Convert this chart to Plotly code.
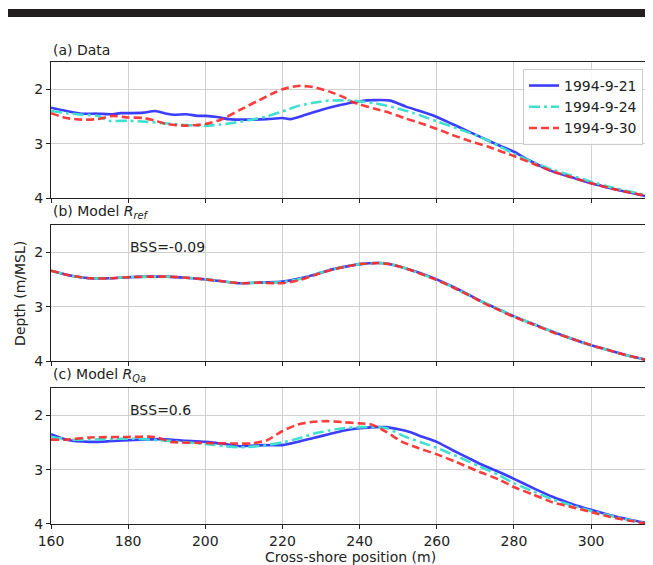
import plotly.graph_objects as go

# ---------------- data ----------------
series_names = ["1994-9-21", "1994-9-24", "1994-9-30"]

# (a) Data
a_0921_x = [160, 164, 168, 172, 176, 178, 180, 184, 187, 190, 192, 195, 198, 200, 203, 206, 211, 216, 220, 222, 226, 230, 235, 240, 244, 248, 252, 256, 260, 264, 268, 272, 276, 280, 284, 290, 295, 300, 305, 310, 315]
a_0921_y = [2.34, 2.40, 2.45, 2.45, 2.46, 2.44, 2.44, 2.43, 2.40, 2.45, 2.47, 2.46, 2.49, 2.49, 2.51, 2.55, 2.56, 2.55, 2.53, 2.55, 2.47, 2.38, 2.29, 2.22, 2.20, 2.21, 2.32, 2.41, 2.51, 2.64, 2.77, 2.90, 3.03, 3.15, 3.31, 3.51, 3.62, 3.73, 3.82, 3.90, 3.98]
a_0924_x = [160, 164, 168, 172, 175, 180, 185, 190, 195, 200, 204, 208, 212, 216, 220, 224, 228, 232, 238, 244, 248, 254, 260, 266, 271, 276, 280, 285, 290, 295, 300, 305, 310, 315]
a_0924_y = [2.40, 2.44, 2.47, 2.49, 2.58, 2.58, 2.60, 2.63, 2.66, 2.67, 2.65, 2.61, 2.56, 2.50, 2.41, 2.31, 2.25, 2.21, 2.21, 2.26, 2.32, 2.44, 2.59, 2.74, 2.87, 3.04, 3.19, 3.34, 3.48, 3.59, 3.70, 3.80, 3.88, 3.96]
a_0930_x = [160, 164, 168, 172, 176, 180, 184, 187, 190, 195, 200, 204, 209, 214, 218, 220, 224, 228, 232, 236, 238, 240, 244, 248, 252, 256, 260, 264, 268, 273, 280, 285, 290, 295, 300, 305, 310, 315]
a_0930_y = [2.44, 2.53, 2.56, 2.55, 2.49, 2.52, 2.53, 2.58, 2.64, 2.67, 2.64, 2.56, 2.38, 2.20, 2.06, 2.00, 1.94, 1.96, 2.04, 2.15, 2.23, 2.28, 2.36, 2.44, 2.54, 2.63, 2.73, 2.84, 2.94, 3.05, 3.23, 3.37, 3.51, 3.62, 3.73, 3.82, 3.90, 3.97]

# (b) Model R_ref
b_x = [160, 165, 170, 175, 180, 185, 190, 195, 200, 205, 209, 214, 218, 220, 224, 228, 232, 236, 240, 245, 248, 252, 256, 260, 264, 268, 272, 276, 280, 285, 290, 295, 300, 305, 310, 315]
b_0921_y = [2.34, 2.43, 2.48, 2.48, 2.46, 2.45, 2.45, 2.47, 2.50, 2.54, 2.57, 2.56, 2.55, 2.54, 2.49, 2.42, 2.33, 2.27, 2.22, 2.20, 2.22, 2.30, 2.39, 2.50, 2.63, 2.77, 2.92, 3.05, 3.18, 3.32, 3.46, 3.59, 3.71, 3.81, 3.91, 3.99]
b_0924_y = [2.34, 2.43, 2.48, 2.48, 2.46, 2.45, 2.45, 2.47, 2.50, 2.54, 2.57, 2.56, 2.56, 2.55, 2.50, 2.42, 2.33, 2.27, 2.22, 2.20, 2.22, 2.30, 2.40, 2.51, 2.64, 2.78, 2.92, 3.05, 3.18, 3.32, 3.46, 3.59, 3.71, 3.81, 3.91, 3.99]
b_0930_y = [2.34, 2.43, 2.48, 2.48, 2.46, 2.45, 2.45, 2.47, 2.50, 2.54, 2.57, 2.56, 2.57, 2.57, 2.52, 2.43, 2.34, 2.27, 2.22, 2.20, 2.22, 2.30, 2.40, 2.51, 2.64, 2.78, 2.93, 3.06, 3.19, 3.33, 3.47, 3.59, 3.71, 3.81, 3.91, 3.99]

# (c) Model R_Qa
c_0921_x = [160, 164, 170, 175, 180, 188, 195, 200, 205, 209, 215, 220, 224, 228, 232, 236, 240, 244, 247, 250, 253, 256, 260, 264, 268, 272, 276, 280, 285, 290, 295, 300, 305, 310, 315]
c_0921_y = [2.35, 2.45, 2.49, 2.48, 2.46, 2.44, 2.47, 2.49, 2.53, 2.57, 2.55, 2.55, 2.49, 2.42, 2.35, 2.28, 2.24, 2.22, 2.22, 2.26, 2.31, 2.39, 2.49, 2.64, 2.78, 2.92, 3.04, 3.17, 3.34, 3.50, 3.63, 3.74, 3.84, 3.92, 3.99]
c_0924_x = [160, 165, 170, 180, 190, 200, 205, 209, 215, 220, 224, 228, 232, 236, 240, 244, 247, 252, 256, 260, 266, 271, 276, 280, 285, 290, 295, 300, 305, 310, 315]
c_0924_y = [2.40, 2.45, 2.45, 2.43, 2.47, 2.53, 2.57, 2.59, 2.56, 2.50, 2.43, 2.34, 2.28, 2.24, 2.22, 2.22, 2.24, 2.40, 2.50, 2.60, 2.78, 2.94, 3.10, 3.25, 3.40, 3.55, 3.66, 3.76, 3.85, 3.93, 3.99]
c_0930_x = [160, 164, 170, 180, 187, 191, 200, 207, 212, 216, 220, 224, 228, 232, 236, 240, 243, 247, 251, 255, 260, 265, 271, 276, 280, 285, 290, 295, 300, 305, 310, 315]
c_0930_y = [2.45, 2.45, 2.41, 2.40, 2.40, 2.49, 2.51, 2.52, 2.52, 2.46, 2.29, 2.17, 2.12, 2.11, 2.13, 2.15, 2.17, 2.31, 2.49, 2.60, 2.72, 2.86, 3.04, 3.18, 3.32, 3.46, 3.60, 3.69, 3.78, 3.87, 3.94, 4.00]

panel_titles = ["(a) Data", "(b) Model <i>R</i><sub><i>ref</i></sub>", "(c) Model <i>R</i><sub><i>Qa</i></sub>"]
bss_labels = [None, "BSS=-0.09", "BSS=0.6"]
x_ticks = [160, 180, 200, 220, 240, 260, 280, 300]
y_ticks = [2, 3, 4]

# ---------------- styling ----------------
FONT = "DejaVu Sans"
colors = ["rgba(40,40,255,0.9)", "rgba(64,224,208,1)", "rgba(255,40,40,0.9)"]
dashes = ["solid", "11px,4px,3px,4px", "8px,4px"]

panels = [
    [(a_0921_x, a_0921_y), (a_0924_x, a_0924_y), (a_0930_x, a_0930_y)],
    [(b_x, b_0921_y), (b_x, b_0924_y), (b_x, b_0930_y)],
    [(c_0921_x, c_0921_y), (c_0924_x, c_0924_y), (c_0930_x, c_0930_y)],
]

domains = [[0.7056, 1.0], [0.3528, 0.6472], [0.0, 0.2944]]

fig = go.Figure()
for p, series in enumerate(panels):
    for s, (xs, ys) in enumerate(series):
        fig.add_trace(go.Scatter(
            x=xs, y=ys, mode="lines",
            name=series_names[s],
            showlegend=(p == 0),
            line=dict(color=colors[s], width=2.6, dash=dashes[s], shape="spline", smoothing=0.6),
            xaxis="x" if p == 0 else f"x{p+1}",
            yaxis="y" if p == 0 else f"y{p+1}",
        ))

# page has an 8px body margin, so the figure is 8px smaller than the window
layout = dict(
    width=645, height=557,
    margin=dict(l=43, r=4, t=54, b=41),
    paper_bgcolor="white", plot_bgcolor="white",
    font=dict(family=FONT, size=14, color="#222222"),
    legend=dict(x=0.99, xanchor="right", y=0.985, yanchor="top",
                bgcolor="rgba(255,255,255,0.85)", bordercolor="#cccccc", borderwidth=1,
                font=dict(family=FONT, size=14, color="#222222"), tracegroupgap=0),
    showlegend=True,
)

annotations = []
for p in range(3):
    xa = "xaxis" if p == 0 else f"xaxis{p+1}"
    ya = "yaxis" if p == 0 else f"yaxis{p+1}"
    yref = "y" if p == 0 else f"y{p+1}"
    layout[xa] = dict(
        domain=[0, 1], range=[160, 315], anchor=yref,
        tickvals=x_ticks, showticklabels=(p == 2),
        ticks="outside", ticklen=4, tickcolor="#222222",
        showgrid=True, gridcolor="#d0d0d0", gridwidth=1,
        showline=True, linecolor="#222222", linewidth=1.2, mirror=True,
        zeroline=False, tickfont=dict(size=14),
    )
    layout[ya] = dict(
        domain=domains[p], range=[4, 1.5], anchor="x" if p == 0 else f"x{p+1}",
        tickvals=y_ticks, ticks="outside", ticklen=4, tickcolor="#222222",
        showgrid=True, gridcolor="#d0d0d0", gridwidth=1,
        showline=True, linecolor="#222222", linewidth=1.2, mirror=True,
        zeroline=False, tickfont=dict(size=14),
    )
    annotations.append(dict(
        text=panel_titles[p], xref="paper", yref="paper",
        x=0, y=domains[p][1], xanchor="left", yanchor="bottom", yshift=2,
        showarrow=False, font=dict(size=14, family=FONT, color="#222222"),
    ))
    if bss_labels[p]:
        annotations.append(dict(
            text=bss_labels[p], xref="x" if p == 0 else f"x{p+1}", yref=yref,
            x=180, y=1.91, xanchor="left", yanchor="middle",
            showarrow=False, font=dict(size=14, family=FONT, color="#222222"),
        ))

annotations.append(dict(
    text="Cross-shore position (m)", xref="paper", yref="paper",
    x=0.5, y=0, xanchor="center", yanchor="top", yshift=-23,
    showarrow=False, font=dict(size=14, family=FONT, color="#222222"),
))
annotations.append(dict(
    text="Depth (m/MSL)", xref="paper", yref="paper",
    x=-0.052, y=0.5, xanchor="center", yanchor="middle", textangle=-90,
    showarrow=False, font=dict(size=14, family=FONT, color="#222222"),
))
layout["annotations"] = annotations

layout["shapes"] = [dict(
    type="rect", xref="paper", yref="paper",
    x0=-0.072, x1=1.01, y0=1.0974, y1=1.1147,
    fillcolor="#231f20", line=dict(width=0), layer="above",
)]

fig.update_layout(**layout)
fig.write_html("out.html")
